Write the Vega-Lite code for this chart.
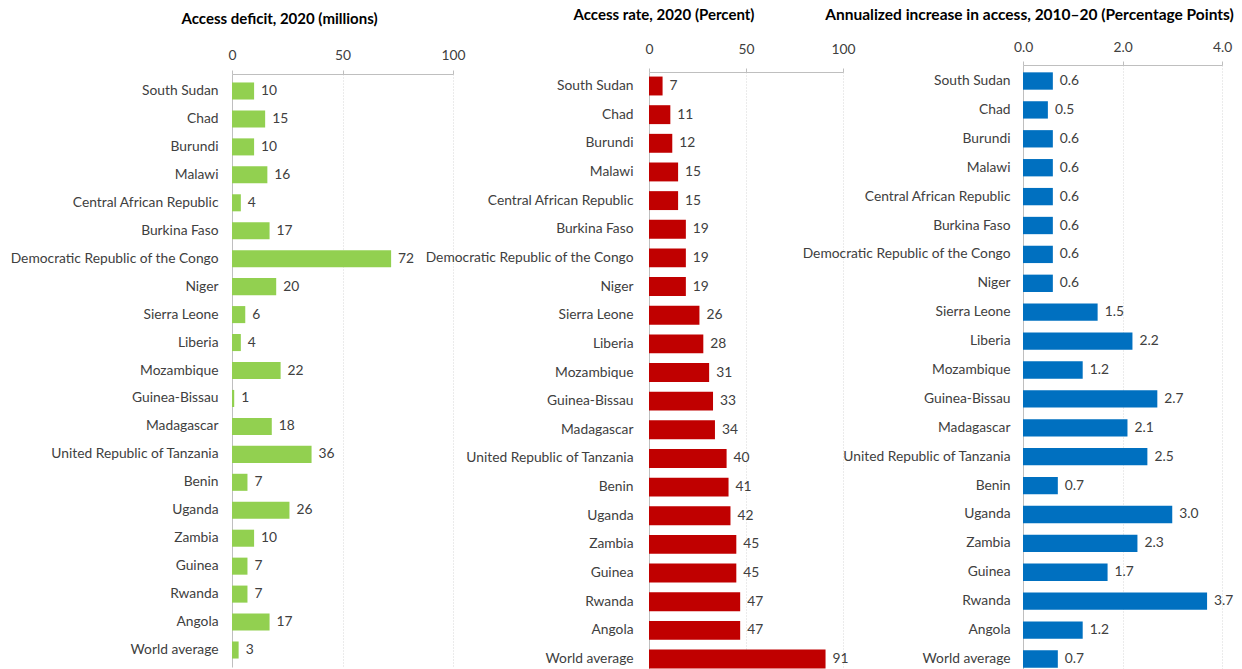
{
  "$schema": "https://vega.github.io/schema/vega-lite/v6.json",
  "background": "white",
  "padding": {"left": 0, "top": 7, "right": 0, "bottom": -5},
  "spacing": 0,
  "bounds": "flush",
  "config": {
    "view": {"stroke": null},
    "font": "Lato",
    "axis": {
      "labelFont": "Lato",
      "labelFontSize": 13.8,
      "labelColor": "#404040",
      "domainColor": "#bfbfbf",
      "tickColor": "#bfbfbf",
      "gridColor": "#d6d6d6",
      "gridDash": [1, 2],
      "labelFlush": false,
      "title": null
    },
    "title": {"font": "Lato", "fontSize": 15, "fontWeight": "bold", "color": "#000000", "anchor": "middle", "frame": "group"}
  },
  "datasets": {
    "d": [
      {"country": "South Sudan", "deficit": 10, "rate": 7, "increase": 0.6},
      {"country": "Chad", "deficit": 15, "rate": 11, "increase": 0.5},
      {"country": "Burundi", "deficit": 10, "rate": 12, "increase": 0.6},
      {"country": "Malawi", "deficit": 16, "rate": 15, "increase": 0.6},
      {"country": "Central African Republic", "deficit": 4, "rate": 15, "increase": 0.6},
      {"country": "Burkina Faso", "deficit": 17, "rate": 19, "increase": 0.6},
      {"country": "Democratic Republic of the Congo", "deficit": 72, "rate": 19, "increase": 0.6},
      {"country": "Niger", "deficit": 20, "rate": 19, "increase": 0.6},
      {"country": "Sierra Leone", "deficit": 6, "rate": 26, "increase": 1.5},
      {"country": "Liberia", "deficit": 4, "rate": 28, "increase": 2.2},
      {"country": "Mozambique", "deficit": 22, "rate": 31, "increase": 1.2},
      {"country": "Guinea-Bissau", "deficit": 1, "rate": 33, "increase": 2.7},
      {"country": "Madagascar", "deficit": 18, "rate": 34, "increase": 2.1},
      {"country": "United Republic of Tanzania", "deficit": 36, "rate": 40, "increase": 2.5},
      {"country": "Benin", "deficit": 7, "rate": 41, "increase": 0.7},
      {"country": "Uganda", "deficit": 26, "rate": 42, "increase": 3.0},
      {"country": "Zambia", "deficit": 10, "rate": 45, "increase": 2.3},
      {"country": "Guinea", "deficit": 7, "rate": 45, "increase": 1.7},
      {"country": "Rwanda", "deficit": 7, "rate": 47, "increase": 3.7},
      {"country": "Angola", "deficit": 17, "rate": 47, "increase": 1.2},
      {"country": "World average", "deficit": 3, "rate": 91, "increase": 0.7}
    ]
  },
  "hconcat": [
    {
      "width": 453,
      "height": 596,
      "data": {"name": "d"},
      "title": {"text": "Access deficit, 2020 (millions)", "dx": 53, "offset": 21},
      "encoding": {
        "y": {
          "field": "country", "type": "nominal", "sort": null,
          "scale": {"range": [0, 593], "paddingInner": 0.39, "paddingOuter": 0.303},
          "axis": {"offset": -232, "labelPadding": 14, "ticks": false, "labelLimit": 400, "grid": false}
        },
        "x": {
          "field": "deficit", "type": "quantitative",
          "scale": {"domain": [0, 100], "range": [232, 453], "nice": false, "zero": true},
          "axis": {
            "orient": "top", "values": [0, 50, 100], "offset": 0, "tickSize": 4, "labelPadding": 8,
            "grid": true, "gridOpacity": {"condition": {"test": "datum.value === 0", "value": 0}, "value": 1}
          }
        }
      },
      "layer": [
        {"mark": {"type": "bar", "color": "#92d050"}},
        {"mark": {"type": "text", "align": "left", "baseline": "middle", "dx": 7, "fontSize": 13.8, "color": "#404040", "font": "Lato"},
         "encoding": {"text": {"field": "deficit", "type": "quantitative", "format": "d"}}}
      ]
    },
    {
      "width": 390,
      "height": 596,
      "data": {"name": "d"},
      "title": {"text": "Access rate, 2020 (Percent)", "dx": 16, "offset": 19},
      "encoding": {
        "y": {
          "field": "country", "type": "nominal", "sort": null,
          "scale": {"range": [-2, 599], "paddingInner": 0.34, "paddingOuter": 0.159},
          "axis": {"offset": -196, "labelPadding": 16, "ticks": false, "labelLimit": 400, "grid": false}
        },
        "x": {
          "field": "rate", "type": "quantitative",
          "scale": {"domain": [0, 100], "range": [196, 390], "nice": false, "zero": true},
          "axis": {
            "orient": "top", "values": [0, 50, 100], "offset": 2, "tickSize": 4, "labelPadding": 12,
            "grid": true, "gridOpacity": {"condition": {"test": "datum.value === 0", "value": 0}, "value": 1}
          }
        }
      },
      "layer": [
        {"mark": {"type": "bar", "color": "#c00000"}},
        {"mark": {"type": "text", "align": "left", "baseline": "middle", "dx": 7, "fontSize": 13.8, "color": "#404040", "font": "Lato"},
         "encoding": {"text": {"field": "rate", "type": "quantitative", "format": "d"}}}
      ]
    },
    {
      "width": 379,
      "height": 596,
      "data": {"name": "d"},
      "title": {"text": "Annualized increase in access, 2010–20 (Percentage Points)", "dx": -3, "offset": 17, "fontSize": 15.5},
      "encoding": {
        "y": {
          "field": "country", "type": "nominal", "sort": null,
          "scale": {"range": [-9, 601], "paddingInner": 0.4, "paddingOuter": 0.254},
          "axis": {"offset": -180, "labelPadding": 13, "ticks": false, "labelLimit": 400, "grid": false}
        },
        "x": {
          "field": "increase", "type": "quantitative",
          "scale": {"domain": [0, 4], "range": [180, 379], "nice": false, "zero": true},
          "axis": {
            "orient": "top", "values": [0, 2, 4], "format": ".1f", "offset": 9, "tickSize": 4, "labelPadding": 7,
            "grid": true, "gridOpacity": {"condition": {"test": "datum.value === 0", "value": 0}, "value": 1}
          }
        }
      },
      "layer": [
        {"mark": {"type": "bar", "color": "#0070c0"}},
        {"mark": {"type": "text", "align": "left", "baseline": "middle", "dx": 7, "fontSize": 13.8, "color": "#404040", "font": "Lato"},
         "encoding": {"text": {"field": "increase", "type": "quantitative", "format": ".1f"}}}
      ]
    }
  ]
}
